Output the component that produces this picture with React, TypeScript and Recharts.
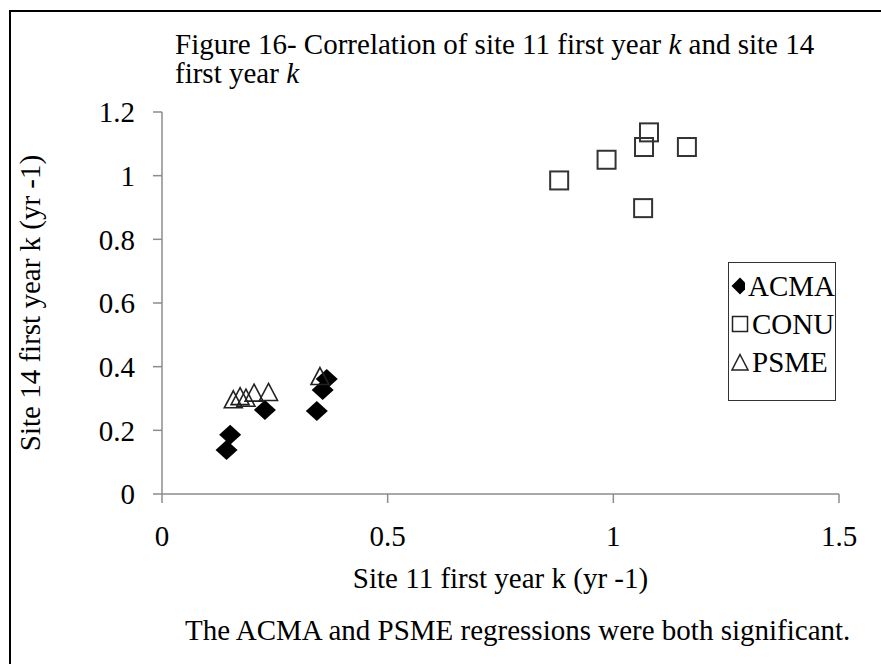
import React from "react";
import { ScatterChart, Scatter, XAxis, YAxis } from "recharts";

// ─── Data ─────────────────────────────────────────────────────────────────────
const acmaX = [0.143, 0.151, 0.228, 0.343, 0.356, 0.365];
const acmaY = [0.138, 0.186, 0.264, 0.261, 0.327, 0.361];

const conuX = [0.88, 0.985, 1.068, 1.079, 1.163, 1.066];
const conuY = [0.985, 1.05, 1.09, 1.136, 1.09, 0.898];

const psmeX = [0.158, 0.173, 0.186, 0.204, 0.236, 0.35];
const psmeY = [0.296, 0.306, 0.301, 0.317, 0.319, 0.369];

const xTicks = [0, 0.5, 1, 1.5];
const yTicks = [0, 0.2, 0.4, 0.6, 0.8, 1, 1.2];

const seriesNames = ["ACMA", "CONU", "PSME"];

const toPoints = (xs: number[], ys: number[]) => xs.map((x, i) => ({ x, y: ys[i] }));

// ─── Look ─────────────────────────────────────────────────────────────────────
const FONT = '"Liberation Serif", "Times New Roman", serif';
const AXIS = "#8c8c8c";
const TEXT_SIZE = 29;

const Diamond = (p: any) => {
  const { cx, cy } = p;
  return (
    <polygon
      points={`${cx},${cy - 10} ${cx + 11},${cy} ${cx},${cy + 10} ${cx - 11},${cy}`}
      fill="#000"
    />
  );
};

const Square = (p: any) => {
  const { cx, cy } = p;
  return <rect x={cx - 9} y={cy - 9} width={18} height={18} fill="none" stroke="#333" strokeWidth={2} />;
};

const Triangle = (p: any) => {
  const { cx, cy } = p;
  return (
    <polygon
      points={`${cx},${cy - 9} ${cx + 9},${cy + 8} ${cx - 9},${cy + 8}`}
      fill="none"
      stroke="#222"
      strokeWidth={1.6}
    />
  );
};

const legendIcons = [
  <polygon key="d" points="9,0.5 17.5,9 9,17.5 0.5,9" fill="#000" />,
  <rect key="s" x={1.5} y={1.5} width={15} height={15} fill="none" stroke="#222" strokeWidth={1.5} />,
  <polygon key="t" points="9,1.5 17,17 1,17" fill="none" stroke="#222" strokeWidth={1.5} />,
];

const textLine = { position: "absolute" as const, fontSize: TEXT_SIZE, lineHeight: "28px", whiteSpace: "nowrap" as const };

export default function App() {
  return (
    <div
      style={{
        position: "absolute",
        left: 0,
        top: 0,
        width: 881,
        height: 664,
        background: "#fff",
        fontFamily: FONT,
        overflow: "hidden",
      }}
    >
      {/* frame (left and top edges only are visible) */}
      <div
        style={{
          position: "absolute",
          left: 9,
          top: 10,
          width: 900,
          height: 700,
          borderLeft: "2px solid #000",
          borderTop: "2px solid #000",
        }}
      />

      <div style={{ ...textLine, left: 175, top: 30 }}>
        Figure 16- Correlation of site 11 first year <i>k</i> and site 14
      </div>
      <div style={{ ...textLine, left: 175, top: 59 }}>
        first year <i>k</i>
      </div>

      <div style={{ position: "absolute", left: 0, top: 0 }}>
        <ScatterChart width={881} height={664} margin={{ top: 112, right: 42, bottom: 130, left: 102 }}>
          <XAxis
            type="number"
            dataKey="x"
            domain={[0, 1.5]}
            ticks={xTicks}
            height={40}
            stroke={AXIS}
            strokeWidth={1.5}
            tickSize={9}
            tickMargin={22}
            tick={{ fill: "#000", fontSize: TEXT_SIZE, fontFamily: FONT }}
            label={{
              value: "Site 11 first year k (yr -1)",
              position: "insideBottom",
              offset: -54,
              fill: "#000",
              fontSize: TEXT_SIZE,
              fontFamily: FONT,
            }}
          />
          <YAxis
            type="number"
            dataKey="y"
            domain={[0, 1.2]}
            ticks={yTicks}
            width={60}
            stroke={AXIS}
            strokeWidth={1.5}
            tickSize={9}
            tickMargin={18}
            tick={{ fill: "#000", fontSize: TEXT_SIZE, fontFamily: FONT }}
            label={{
              value: "Site 14 first year k (yr -1)",
              angle: -90,
              position: "center",
              dx: -102,
              fill: "#000",
              fontSize: TEXT_SIZE,
              fontFamily: FONT,
            }}
          />
          <Scatter name={seriesNames[0]} data={toPoints(acmaX, acmaY)} shape={Diamond} isAnimationActive={false} />
          <Scatter name={seriesNames[1]} data={toPoints(conuX, conuY)} shape={Square} isAnimationActive={false} />
          <Scatter name={seriesNames[2]} data={toPoints(psmeX, psmeY)} shape={Triangle} isAnimationActive={false} />
        </ScatterChart>
      </div>

      {/* legend */}
      <div
        style={{
          position: "absolute",
          left: 728,
          top: 262,
          width: 108,
          height: 139,
          border: "1.5px solid #333",
          boxSizing: "border-box",
          paddingTop: 4,
        }}
      >
        {seriesNames.map((name, i) => (
          <div
            key={name}
            style={{ display: "flex", alignItems: "center", height: 38, paddingLeft: 2, fontSize: TEXT_SIZE, whiteSpace: "nowrap" }}
          >
            <svg width={18} height={18} style={{ marginRight: 3 }}>
              {legendIcons[i]}
            </svg>
            {name}
          </div>
        ))}
      </div>

      <div style={{ ...textLine, left: 185, top: 616 }}>
        The ACMA and PSME regressions were both significant.
      </div>
    </div>
  );
}
